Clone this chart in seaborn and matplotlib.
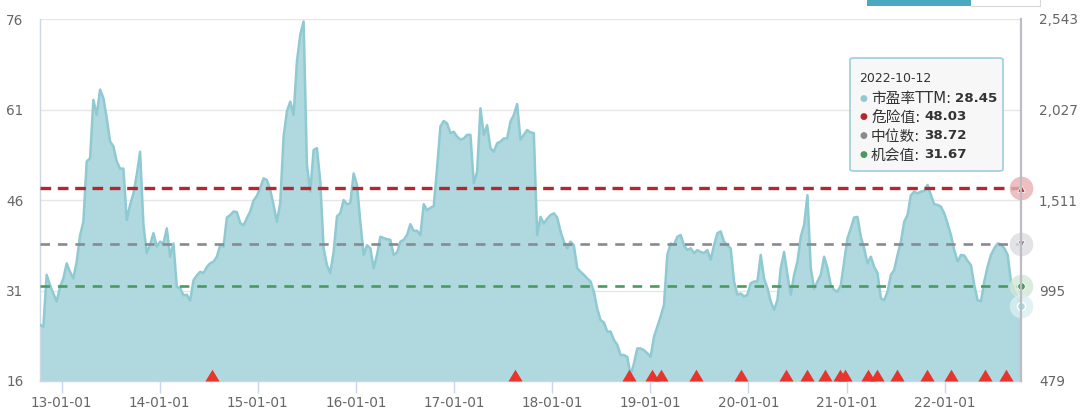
import numpy as np
import pandas as pd
import matplotlib
matplotlib.use("Agg")
import matplotlib.pyplot as plt
import matplotlib.dates as mdates
import matplotlib.ticker as mticker
from matplotlib.patches import FancyBboxPatch, Rectangle
from matplotlib.lines import Line2D
import seaborn as sns

# ---------------- data ----------------
start_date = "2012-10-12"
end_date = "2022-10-12"
pe_ttm = [
    25.3, 25.0, 33.6, 31.9, 30.5, 29.2, 31.6, 33.0, 35.5, 34.1,
    33.0, 35.8, 40.1, 42.4, 52.4, 52.9, 62.6, 60.1, 64.3, 62.9,
    59.6, 55.7, 54.9, 52.4, 51.2, 51.2, 42.7, 45.2, 47.1, 50.2,
    54.0, 41.9, 37.2, 38.6, 40.5, 38.3, 39.1, 38.8, 41.3, 36.6,
    38.8, 31.6, 31.4, 30.2, 30.3, 29.3, 32.7, 33.5, 34.1, 33.9,
    34.9, 35.5, 35.8, 36.6, 38.5, 38.3, 43.1, 43.5, 44.1, 44.0,
    42.2, 41.8, 43.0, 44.1, 45.9, 46.7, 48.0, 49.6, 49.3, 47.7,
    45.2, 42.4, 45.5, 56.5, 60.7, 62.3, 60.1, 69.0, 73.4, 75.6,
    51.8, 47.4, 54.3, 54.6, 49.1, 38.0, 35.2, 33.9, 37.4, 43.3,
    43.8, 46.0, 45.3, 45.5, 50.4, 48.5,
    42.4, 36.9, 38.5, 38.0, 34.7, 36.9, 39.9, 39.7, 39.5, 39.4,
    36.9, 37.3, 39.1, 39.4, 40.2, 42.0, 40.9, 40.9, 40.2, 45.3,
    44.3, 44.7, 45.0, 51.3, 58.2, 59.1, 58.7, 57.1, 57.3, 56.5,
    56.0, 56.2, 56.8, 56.8, 48.8, 50.7, 61.2, 56.8, 58.4, 54.6,
    54.0, 55.4, 55.7, 56.2, 56.2, 59.0, 60.1, 61.9, 56.0, 56.8,
    57.6, 57.2, 57.1, 40.2, 43.2, 42.1, 42.9, 43.5, 43.8, 43.1,
    40.8, 39.1, 38.0, 39.1, 38.5, 34.7, 34.1, 33.6, 33.0, 32.5,
    30.8, 28.0, 26.1, 25.7, 24.2, 24.2, 22.8, 22.0, 20.3, 20.3,
    20.0, 17.0, 18.9, 21.4, 21.4, 21.1, 20.6, 20.0, 23.3, 25.0,
    26.7, 28.6, 36.9, 38.8, 38.6, 39.9,
    40.2, 38.5, 37.7, 38.0, 37.2, 37.7, 37.4, 37.2, 37.7, 36.1,
    38.5, 40.5, 40.8, 39.1, 38.5, 38.0, 32.5, 30.3, 30.5, 30.0,
    30.3, 32.2, 32.5, 32.5, 36.9, 33.0, 31.4, 29.2, 27.8, 29.4,
    34.7, 37.4, 33.6, 30.3, 33.6, 35.8, 39.9, 41.9, 46.8, 34.7,
    31.3, 32.5, 33.6, 36.6, 34.7, 31.9, 31.1, 30.8, 31.9, 35.8,
    39.7, 41.3, 43.1, 43.2, 39.9, 38.0, 35.5, 36.6, 34.9, 33.9,
    29.7, 29.4, 30.8, 33.6, 34.4, 36.9, 39.1, 42.4, 43.5, 46.8,
    47.4, 47.1, 47.4, 47.5, 48.5, 46.8, 45.3, 45.2, 44.9, 43.8,
    42.1, 40.2, 37.7, 35.8, 36.9, 36.8, 35.9, 35.2, 31.9, 29.4,
    29.2, 32.5, 35.0, 36.9, 38.0, 38.8, 38.6, 38.0, 36.9, 32.5,
    30.8, 30.0, 28.45,
]
danger_value = 48.03
median_value = 38.72
chance_value = 31.67
signal_dates = [
    "2014-07-13", "2017-08-17", "2018-10-13", "2019-01-08", "2019-02-10",
    "2019-06-20", "2019-12-03", "2020-05-22", "2020-08-06", "2020-10-12",
    "2020-12-09", "2020-12-25", "2021-03-21", "2021-04-23", "2021-07-09",
    "2021-10-26", "2022-01-26", "2022-05-30", "2022-08-16",
]
left_ticks = [16, 31, 46, 61, 76]
right_ticks = [479, 995, 1511, 2027, 2543]
x_ticks = ["2013-01-01", "2014-01-01", "2015-01-01", "2016-01-01", "2017-01-01",
           "2018-01-01", "2019-01-01", "2020-01-01", "2021-01-01", "2022-01-01"]
tooltip_labels = ["市盈率TTM", "危险值", "中位数", "机会值"]

# ---------------- figure ----------------
W, H = 1080, 418
sns.set_style("white")
plt.rcParams["font.family"] = ["DejaVu Sans", "Noto Sans CJK SC"]

dates = pd.date_range(start_date, end_date, periods=len(pe_ttm))
df = pd.DataFrame({"date": dates, "pe": pe_ttm})

fig = plt.figure(figsize=(W / 100, H / 100), dpi=100)
ax = fig.add_axes([40 / W, 1 - 381 / H, 981 / W, 362 / H])

fill_c = "#afd8df"
line_c = "#8fcad3"
red_c = "#b3282d"
gray_c = "#888a91"
green_c = "#4a9a5f"

ax.set_axisbelow(True)
ax.yaxis.grid(True, color="#e6e6e6", lw=1.0)
ax.fill_between(df["date"], left_ticks[0], df["pe"], color=fill_c, lw=0, zorder=2)
sns.lineplot(data=df, x="date", y="pe", ax=ax, color=line_c, lw=1.8, zorder=3)

ax.axhline(danger_value, color=red_c, lw=2.4, ls=(0, (3.2, 2.0)), zorder=4)
ax.axhline(median_value, color=gray_c, lw=1.9, ls=(0, (3.6, 3.0)), zorder=4)
ax.axhline(chance_value, color=green_c, lw=1.9, ls=(0, (3.6, 3.0)), zorder=4)

ax.set_xlim(dates[0], dates[-1])
ax.set_ylim(left_ticks[0], left_ticks[-1])
ax.set_yticks(left_ticks)
ax.set_xticks(pd.to_datetime(x_ticks))
ax.xaxis.set_major_formatter(mdates.DateFormatter("%y-%m-%d"))
ax.set_xlabel("")
ax.set_ylabel("")
ax.tick_params(axis="x", length=8.5, width=1, color="#ccd6eb", labelcolor="#666666",
               labelsize=9.8, pad=2, bottom=True)
ax.tick_params(axis="y", length=0, labelcolor="#666666", labelsize=9.8, pad=12)
for s in ["top", "right"]:
    ax.spines[s].set_visible(False)
for s in ["left", "bottom"]:
    ax.spines[s].set_color("#ccd6eb")
    ax.spines[s].set_linewidth(1.0)

# signal triangles sitting on the x axis
tri = [(-0.6, 0), (0.6, 0), (0, 1.0), (-0.6, 0)]
ax.scatter(mdates.date2num(pd.to_datetime(signal_dates)), np.zeros(len(signal_dates)),
           transform=ax.get_xaxis_transform(), marker=tri, s=17 ** 2,
           color="#e8342b", lw=0, clip_on=False, zorder=6)

# hover markers at the right edge
last = mdates.date2num(dates[-1])
halo = [(danger_value, "#e9b0b2"), (median_value, "#dcdddf"),
        (chance_value, "#d3e8d6"), (pe_ttm[-1], "#daeff3")]
for v, c in halo:
    ax.scatter([last], [v], s=17 ** 2, color=c, alpha=0.8, lw=0, clip_on=False, zorder=7)
ax.scatter([last], [danger_value], marker="^", s=30, color=red_c, edgecolor="white", lw=0.6, clip_on=False, zorder=8)
ax.scatter([last], [median_value], marker="v", s=28, color=gray_c, edgecolor="white", lw=0.6, clip_on=False, zorder=8)
ax.scatter([last], [chance_value], marker="o", s=30, color=green_c, edgecolor="white", lw=0.6, clip_on=False, zorder=8)
ax.scatter([last], [pe_ttm[-1]], marker="o", s=34, color="#a9dbe3", edgecolor="white", lw=1.0, clip_on=False, zorder=8)

# right axis
ax2 = ax.twinx()
ax2.set_ylim(right_ticks[0], right_ticks[-1])
ax2.set_yticks(right_ticks)
ax2.yaxis.set_major_formatter(mticker.StrMethodFormatter("{x:,.0f}"))
ax2.tick_params(axis="y", length=0, labelcolor="#666666", labelsize=9.8, pad=13)
for s in ["top", "left", "bottom"]:
    ax2.spines[s].set_visible(False)
ax2.spines["right"].set_color("#bcbcc2")
ax2.spines["right"].set_linewidth(1.6)
ax2.grid(False)

# ---------------- tooltip ----------------
def fx(px):
    return px / W

def fy(py):
    return 1 - py / H

box = FancyBboxPatch((fx(850), fy(171)), fx(1003) - fx(850), fy(58) - fy(171),
                     boxstyle="round,pad=0,rounding_size=0.004", transform=fig.transFigure,
                     fc="#f7f7f7", ec="#9fd0d8", lw=1.3, alpha=0.95, zorder=20)
fig.add_artist(box)
fig.text(fx(859), fy(79), dates[-1].strftime("%Y-%m-%d"), fontsize=9.0, color="#333333",
         va="center", zorder=21)
renderer = fig.canvas.get_renderer()
row_vals = [pe_ttm[-1], danger_value, median_value, chance_value]
row_cols = [line_c, red_c, gray_c, green_c]
for i, (lab, val, col) in enumerate(zip(tooltip_labels, row_vals, row_cols)):
    yy = fy(98 + i * 19)
    fig.text(fx(863), yy, "●", fontsize=6.5, color=col, ha="center", va="center", zorder=21)
    t = fig.text(fx(871), yy, lab + ":", fontsize=10.6, color="#333333", va="center", zorder=21)
    bb = t.get_window_extent(renderer=renderer)
    fig.text((bb.x1 + 4) / W, yy, f"{val:.2f}", fontsize=9.6, fontweight="bold",
             color="#333333", va="center", zorder=21)

# top-right toolbar fragment
fig.add_artist(Rectangle((fx(867), fy(5.7)), fx(971) - fx(867), fy(0) - fy(5.7),
                         transform=fig.transFigure, fc="#4aa8c0", ec="none", zorder=20))
fig.add_artist(Line2D([fx(971), fx(1040)], [fy(5.7), fy(5.7)], transform=fig.transFigure,
                      color="#d8d8d8", lw=0.8, zorder=20))
fig.add_artist(Line2D([fx(1040), fx(1040)], [fy(0), fy(5.7)], transform=fig.transFigure,
                      color="#d8d8d8", lw=0.8, zorder=20))

fig.savefig("out.png", dpi=100)
